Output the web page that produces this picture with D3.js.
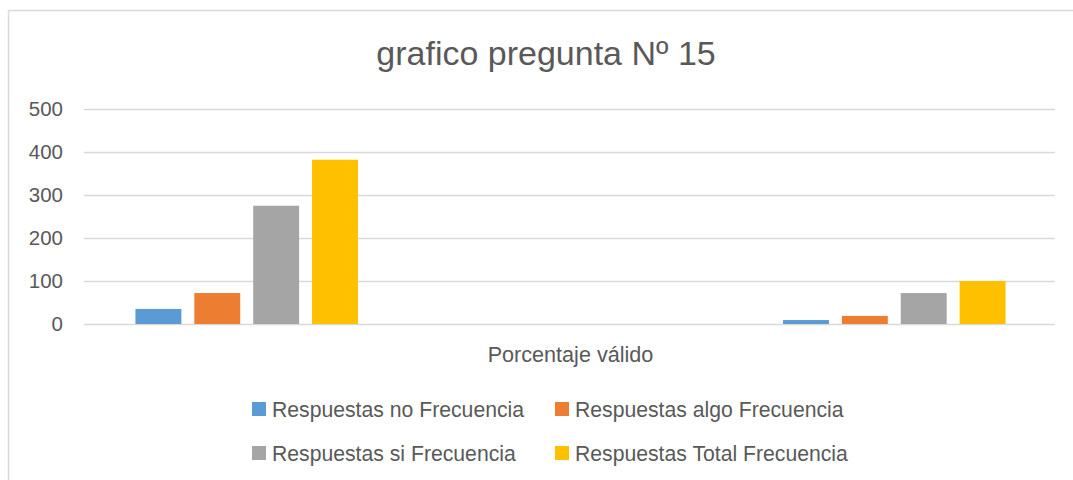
<!DOCTYPE html>
<html>
<head>
<meta charset="utf-8">
<script src="https://cdn.jsdelivr.net/npm/d3@7"></script>
<style>
  body { margin: 0; background: #fff; }
  text { font-family: "Liberation Sans", Arial, sans-serif; fill: #595959; }
</style>
</head>
<body>
<svg id="chart" width="1073" height="480"></svg>
<script>
// data
var title = "grafico pregunta Nº 15";
var categories = ["Porcentaje válido"];
var seriesNames = ["Respuestas no Frecuencia", "Respuestas algo Frecuencia",
                   "Respuestas si Frecuencia", "Respuestas Total Frecuencia"];
var freqValues = [35, 72, 275, 382];
var pctValues = [9.2, 18.8, 72.0, 100];
var emptySlots = 7; // hidden series with no values between the two groups
var colors = ["#5B9BD5", "#ED7D31", "#A5A5A5", "#FFC000"];
var yTicks = [0, 100, 200, 300, 400, 500];

// slots = one band per series bar in the single category
var slots = [];
freqValues.forEach(function(v, i) { slots.push({key: "f" + i, value: v, color: colors[i]}); });
for (var k = 0; k < emptySlots; k++) slots.push({key: "e" + k, value: null});
pctValues.forEach(function(v, i) { slots.push({key: "p" + i, value: v, color: colors[i]}); });

var svg = d3.select("#chart");

// chart frame
svg.append("rect")
    .attr("x", 8.5).attr("y", 10.5)
    .attr("width", 1200).attr("height", 600)
    .attr("fill", "#fff").attr("stroke", "#d9d9d9").attr("stroke-width", 1.5);

var plot = {left: 86, right: 1055, top: 109, bottom: 324};

var y = d3.scaleLinear().domain([0, 500]).range([plot.bottom, plot.top]);
var x = d3.scaleBand()
    .domain(slots.map(function(d) { return d.key; }))
    .range([plot.left, plot.right])
    .paddingInner(0.22)
    .paddingOuter(0.84);

svg.append("text")
    .attr("x", 546).attr("y", 65)
    .attr("text-anchor", "middle")
    .style("font-size", "34px")
    .text(title);

// gridlines
svg.append("g").selectAll("line")
    .data(yTicks)
    .join("line")
    .attr("x1", plot.left - 2).attr("x2", plot.right)
    .attr("y1", function(d) { return Math.round(y(d)) + 0.5; })
    .attr("y2", function(d) { return Math.round(y(d)) + 0.5; })
    .attr("stroke", "#d9d9d9").attr("stroke-width", 1.5);

// y axis labels
svg.append("g").selectAll("text")
    .data(yTicks)
    .join("text")
    .attr("x", 63)
    .attr("y", function(d) { return y(d) + 7; })
    .attr("text-anchor", "end")
    .style("font-size", "20.5px")
    .text(function(d) { return d; });

// bars
svg.append("g").selectAll("rect")
    .data(slots.filter(function(d) { return d.value != null; }))
    .join("rect")
    .attr("x", function(d) { return x(d.key); })
    .attr("width", x.bandwidth())
    .attr("y", function(d) { return y(d.value); })
    .attr("height", function(d) { return y(0) - y(d.value); })
    .attr("fill", function(d) { return d.color; });

// category label
svg.append("text")
    .attr("x", (plot.left + plot.right) / 2).attr("y", 362)
    .attr("text-anchor", "middle")
    .style("font-size", "21.6px")
    .text(categories[0]);

// legend, two columns
var legendCols = [252, 555];
var legendRows = [409, 453];
var legend = svg.append("g").selectAll("g")
    .data(seriesNames)
    .join("g")
    .attr("transform", function(d, i) {
        return "translate(" + legendCols[i % 2] + "," + legendRows[Math.floor(i / 2)] + ")";
    });
legend.append("rect")
    .attr("x", 0).attr("y", -7)
    .attr("width", 14).attr("height", 14)
    .attr("fill", function(d, i) { return colors[i]; });
legend.append("text")
    .attr("x", 20).attr("y", 7.5)
    .style("font-size", "21.2px")
    .text(function(d) { return d; });
</script>
</body>
</html>
